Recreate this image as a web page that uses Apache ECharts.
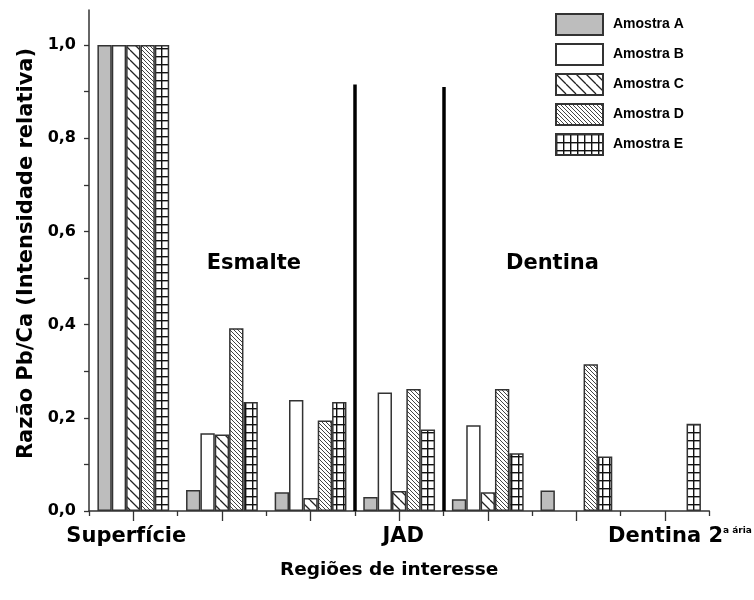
<!DOCTYPE html>
<html>
<head>
<meta charset="utf-8">
<script src="https://cdn.jsdelivr.net/npm/echarts@6/dist/echarts.min.js"></script>
<style>
  html, body { margin: 0; padding: 0; background: #fff; }
  #chart { width: 754px; height: 600px; }
</style>
</head>
<body>
<div id="chart"></div>
<script>
// Regions along the tooth profile (only three carry a label)
const categories = ['Superfície', '', '', 'JAD', '', '', 'Dentina 2ª ária'];

// Pb/Ca ratio (relative intensity) per sample
const amostraA = [1.0, 0.045, 0.04, 0.03, 0.025, 0.044, null];
const amostraB = [1.0, 0.167, 0.238, 0.254, 0.184, null, null];
const amostraC = [1.0, 0.164, 0.028, 0.043, 0.04, null, null];
const amostraD = [1.0, 0.392, 0.194, 0.262, 0.262, 0.315, null];
const amostraE = [1.0, 0.234, 0.234, 0.175, 0.124, 0.117, 0.187];

const seriesNames = ['Amostra A', 'Amostra B', 'Amostra C', 'Amostra D', 'Amostra E'];

// y axis ticks
const yLabelValues = [0, 0.2, 0.4, 0.6, 0.8, 1.0];
const yTickValues = [0, 0.1, 0.2, 0.3, 0.4, 0.5, 0.6, 0.7, 0.8, 0.9, 1.0];

// Region separators (between category slots) and their heights
const separatorX = [2.5, 3.5];
const separatorTop = [0.915, 0.91];

// Region titles placed in data coordinates
const regionTitles = ['Esmalte', 'Dentina'];
const regionTitleX = [1.36, 4.73];
const regionTitleY = [0.532, 0.532];

// ---- fill patterns ----
function diagonalHatch(step, lineWidth, color) {
  const c = document.createElement('canvas');
  c.width = step; c.height = step;
  const g = c.getContext('2d');
  g.fillStyle = '#fff';
  g.fillRect(0, 0, step, step);
  g.strokeStyle = color;
  g.lineWidth = lineWidth;
  g.beginPath();
  for (let k = -1; k <= 1; k++) {
    g.moveTo(k * step, 0);
    g.lineTo(k * step + step, step);
  }
  g.stroke();
  return c;
}
function gridHatch(w, h, lineWidth, color) {
  const c = document.createElement('canvas');
  c.width = w; c.height = h;
  const g = c.getContext('2d');
  g.fillStyle = '#fff';
  g.fillRect(0, 0, w, h);
  g.fillStyle = color;
  g.fillRect(0, 0, lineWidth, h);
  g.fillRect(0, 0, w, lineWidth);
  return c;
}

const fills = [
  '#bdbdbd',
  '#ffffff',
  { image: diagonalHatch(10, 1.3, '#222'), repeat: 'repeat' },
  { image: diagonalHatch(4, 1.0, '#444'), repeat: 'repeat' },
  { image: gridHatch(7, 8, 1.4, '#111'), repeat: 'repeat' }
];
const values = [amostraA, amostraB, amostraC, amostraD, amostraE];

const FONT = 'DejaVu Sans';

const barSeries = seriesNames.map((name, i) => ({
  name: name,
  type: 'bar',
  xAxisIndex: 0,
  yAxisIndex: 0,
  data: values[i],
  barGap: '0%',
  barCategoryGap: '19%',
  itemStyle: { color: fills[i], borderColor: '#333', borderWidth: 1.5 },
  emphasis: { disabled: true }
}));

const separatorSeries = {
  type: 'line',
  xAxisIndex: 2,
  yAxisIndex: 0,
  data: [],
  silent: true,
  markLine: {
    silent: true,
    symbol: 'none',
    label: { show: false },
    lineStyle: { color: '#000', width: 3.5, type: 'solid' },
    data: separatorX.map((x, i) => [
      { coord: [x, 0] },
      { coord: [x, separatorTop[i]] }
    ])
  },
  markPoint: {
    silent: true,
    symbol: 'rect',
    symbolSize: 0,
    label: {
      show: true,
      position: 'inside',
      color: '#000',
      fontFamily: FONT,
      fontWeight: 'bold',
      fontSize: 21,
      formatter: p => p.name
    },
    data: regionTitles.map((t, i) => ({ name: t, coord: [regionTitleX[i], regionTitleY[i]] }))
  }
};

const chart = echarts.init(document.getElementById('chart'), null, { renderer: 'canvas' });

chart.setOption({
  animation: false,
  backgroundColor: '#fff',
  grid: { left: 89, right: 32, top: 10, bottom: 89, containLabel: false },
  legend: {
    orient: 'vertical',
    left: 555,
    top: 13,
    padding: 0,
    itemWidth: 47,
    itemHeight: 21,
    itemGap: 7,
    icon: 'rect',
    selectedMode: false,
    data: seriesNames,
    textStyle: {
      fontFamily: 'Liberation Sans',
      fontWeight: 'bold',
      fontSize: 14,
      lineHeight: 16,
      color: '#000',
      padding: [0, 0, 0, 5]
    }
  },
  xAxis: [
    {
      type: 'category',
      data: categories,
      position: 'bottom',
      axisLine: { onZero: false, lineStyle: { color: '#333', width: 1.5 } },
      axisTick: { show: true, alignWithLabel: true, interval: 0, length: 10, lineStyle: { color: '#333', width: 1.3 } },
      axisLabel: {
        interval: 2,
        margin: 15,
        color: '#000',
        formatter: function (v) {
          if (v === 'Dentina 2ª ária') return '{d|Dentina 2}{s|a ária}';
          if (v === 'Superfície') return '{l|' + v + '}';
          if (v === 'JAD') return '{r|' + v + '}';
          return '';
        },
        rich: {
          l: { fontFamily: FONT, fontWeight: 'bold', fontSize: 21, color: '#000', padding: [0, 14, 0, 0] },
          r: { fontFamily: FONT, fontWeight: 'bold', fontSize: 21, color: '#000', padding: [0, 0, 0, 8] },
          d: { fontFamily: FONT, fontWeight: 'bold', fontSize: 21, color: '#000', padding: [0, 0, 0, 30] },
          s: { fontFamily: FONT, fontWeight: 'bold', fontSize: 9, color: '#000', verticalAlign: 'top' }
        }
      },
      name: 'Regiões de interesse',
      nameLocation: 'middle',
      nameGap: 50,
      nameTextStyle: { fontFamily: FONT, fontWeight: 'bold', fontSize: 18.5, color: '#000', padding: [0, 20, 0, 0] },
      splitLine: { show: false }
    },
    {
      type: 'category',
      data: categories,
      position: 'bottom',
      axisLine: { show: false, onZero: false },
      axisTick: { show: true, alignWithLabel: false, interval: 0, length: 5, lineStyle: { color: '#333', width: 1.3 } },
      axisLabel: { show: false },
      splitLine: { show: false }
    },
    {
      type: 'value',
      min: -0.5,
      max: 6.5,
      show: false,
      axisLine: { onZero: false }
    }
  ],
  yAxis: {
    type: 'value',
    min: 0,
    max: 1.075,
    axisLine: { show: true, onZero: false, lineStyle: { color: '#333', width: 1.5 } },
    axisTick: { show: true, inside: false, length: 5, customValues: yTickValues, lineStyle: { color: '#333', width: 1.3 } },
    axisLabel: {
      customValues: yLabelValues,
      margin: 13,
      color: '#000',
      fontFamily: FONT,
      fontWeight: 'bold',
      fontSize: 16,
      formatter: v => v.toFixed(1).replace('.', ',')
    },
    splitLine: { show: false },
    name: 'Razão Pb/Ca (Intensidade relativa)',
    nameLocation: 'middle',
    nameRotate: 90,
    nameGap: 50,
    nameTextStyle: { fontFamily: FONT, fontWeight: 'bold', fontSize: 21, color: '#000', padding: [0, 0, 0, 14] }
  },
  series: barSeries.concat([separatorSeries])
});
</script>
</body>
</html>
